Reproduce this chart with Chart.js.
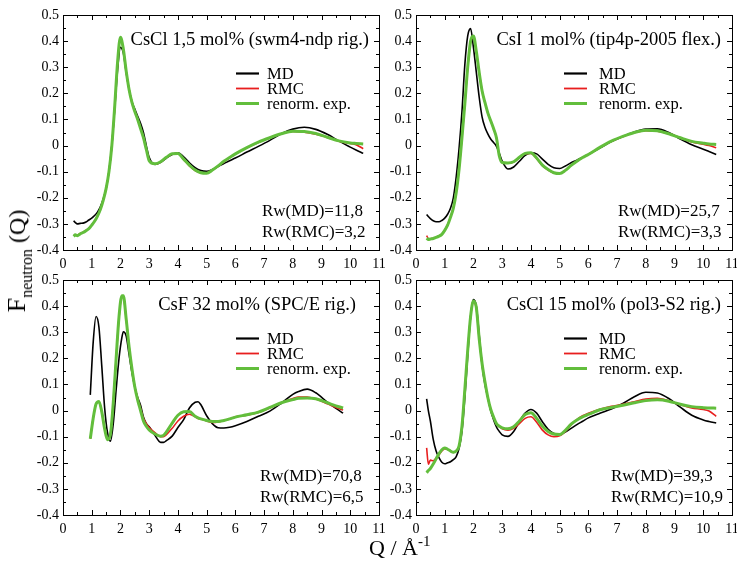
<!DOCTYPE html>
<html>
<head>
<meta charset="utf-8">
<script src="https://cdn.jsdelivr.net/npm/chart.js@4.4.1/dist/chart.umd.min.js"></script>
<style>
  html, body { margin: 0; padding: 0; background: #fff; overflow: hidden; }
  body { width: 737px; height: 564px; position: relative; font-family: 'Liberation Serif', 'Times New Roman', serif; }
  canvas { position: absolute; }
  #ytitle { position: absolute; left: 22px; top: 261px; transform: translate(-50%, -50%) rotate(-90deg);
            white-space: nowrap; font-size: 24px; line-height: 30px; color: #000; }
  #ytitle .big { font-size: 26px; }
  #ytitle .sub { font-size: 16px; vertical-align: -7px; }
  #xtitle { position: absolute; left: 369px; top: 535px; white-space: nowrap; font-size: 22px; line-height: 26px; color: #000; }
  #xtitle sup { font-size: 15px; vertical-align: 9px; line-height: 0; }
</style>
</head>
<body>
<canvas id="p0" width="394" height="275"></canvas>
<canvas id="p1" width="394" height="275"></canvas>
<canvas id="p2" width="394" height="275"></canvas>
<canvas id="p3" width="394" height="275"></canvas>
<div id="ytitle"><span class="big">F</span><span class="sub">neutron</span> (Q)</div>
<div id="xtitle">Q / Å<sup>-1</sup></div>
<script>
// axis ticks
const xTicks = [0, 1, 2, 3, 4, 5, 6, 7, 8, 9, 10, 11];
const xTickLabels = ['0', '1', '2', '3', '4', '5', '6', '7', '8', '9', '10', '11'];
const yTicks = [-0.4, -0.3, -0.2, -0.1, 0, 0.1, 0.2, 0.3, 0.4, 0.5];
const yTickLabels = ['-0.4', '-0.3', '-0.2', '-0.1', '0', '0.1', '0.2', '0.3', '0.4', '0.5'];

const seriesNames = ['MD', 'RMC', 'renorm. exp.'];
const panelTitles = ['CsCl 1,5 mol% (swm4-ndp rig.)', 'CsI 1 mol% (tip4p-2005 flex.)',
                     'CsF 32 mol% (SPC/E rig.)', 'CsCl 15 mol% (pol3-S2 rig.)'];
const rwLabels = [['Rw(MD)=11,8', 'Rw(RMC)=3,2'], ['Rw(MD)=25,7', 'Rw(RMC)=3,3'],
                  ['Rw(MD)=70,8', 'Rw(RMC)=6,5'], ['Rw(MD)=39,3', 'Rw(RMC)=10,9']];

// Q grids
const qA = [0.37, 0.43, 0.5, 0.6, 0.7, 0.8, 0.9, 1.0, 1.1, 1.2, 1.3, 1.4,
  1.5, 1.6, 1.7, 1.8, 1.9, 2.0, 2.1, 2.2, 2.3, 2.4, 2.5, 2.6, 2.7, 2.8, 2.9, 3.0,
  3.2, 3.4, 3.6, 3.8, 4.0, 4.2, 4.4, 4.6, 4.8, 5.0, 5.2, 5.4, 5.6, 5.8, 6.0,
  6.4, 6.8, 7.2, 7.6, 8.0, 8.4, 8.8, 9.2, 9.6, 10.0, 10.2, 10.45];
const qB = [0.95, 1.05, 1.15, 1.25, 1.35, 1.45, 1.55, 1.65, 1.75, 1.85, 1.95, 2.05,
  2.1, 2.2, 2.3, 2.4, 2.5, 2.6, 2.7, 2.8, 2.9, 3.0,
  3.2, 3.4, 3.5, 3.6, 3.8, 4.0, 4.2, 4.4, 4.6, 4.7, 4.8,
  5.0, 5.2, 5.4, 5.6, 5.8, 6.0, 6.4, 6.8, 7.2, 7.6, 8.0,
  8.2, 8.5, 8.8, 9.2, 9.5, 9.75];

// CsCl 1,5 mol%
const md1 = [-0.288, -0.295, -0.300, -0.298, -0.297, -0.293, -0.285, -0.278, -0.268, -0.255, -0.235, -0.205,
  -0.165, -0.10, 0.0, 0.14, 0.29, 0.376, 0.355, 0.28, 0.215, 0.168, 0.14, 0.112, 0.085, 0.05, 0.0, -0.045,
  -0.072, -0.064, -0.048, -0.034, -0.028, -0.043, -0.066, -0.085, -0.096, -0.099, -0.092, -0.08, -0.069, -0.058, -0.048,
  -0.025, -0.003, 0.02, 0.045, 0.063, 0.07, 0.062, 0.043, 0.018, -0.006, -0.017, -0.03];
const rmc1 = [-0.345, -0.342, -0.343, -0.337, -0.332, -0.325, -0.317, -0.304, -0.289, -0.27, -0.245, -0.21,
  -0.166, -0.10, 0.0, 0.148, 0.315, 0.41, 0.368, 0.284, 0.215, 0.165, 0.13, 0.1, 0.066, 0.03, -0.014, -0.056,
  -0.071, -0.063, -0.046, -0.032, -0.031, -0.054, -0.078, -0.096, -0.105, -0.104, -0.094, -0.079, -0.062, -0.047, -0.033,
  -0.009, 0.012, 0.03, 0.045, 0.054, 0.051, 0.043, 0.031, 0.017, 0.008, 0.003, -0.012];
const exp1 = [-0.348, -0.342, -0.345, -0.338, -0.333, -0.326, -0.318, -0.305, -0.29, -0.27, -0.245, -0.21,
  -0.165, -0.10, 0.0, 0.15, 0.32, 0.415, 0.37, 0.285, 0.215, 0.165, 0.13, 0.10, 0.065, 0.03, -0.015, -0.058,
  -0.07, -0.062, -0.045, -0.031, -0.03, -0.052, -0.075, -0.094, -0.104, -0.106, -0.094, -0.078, -0.06, -0.046, -0.032,
  -0.008, 0.013, 0.03, 0.045, 0.055, 0.054, 0.046, 0.032, 0.018, 0.01, 0.008, 0.006];

// CsI 1 mol%
const md2 = [-0.264, -0.272, -0.28, -0.288, -0.292, -0.292, -0.287, -0.278, -0.263, -0.24, -0.2, -0.12,
  -0.01, 0.13, 0.31, 0.42, 0.448, 0.375, 0.28, 0.185, 0.11, 0.07, 0.045, 0.025, 0.012, -0.003, -0.03, -0.06,
  -0.09, -0.082, -0.06, -0.038, -0.028, -0.032, -0.052, -0.072, -0.085, -0.088, -0.078, -0.066, -0.056, -0.045, -0.034,
  -0.01, 0.015, 0.035, 0.052, 0.063, 0.064, 0.05, 0.025, 0.003, -0.014, -0.023, -0.034];
const rmc2 = [-0.345, -0.356, -0.357, -0.355, -0.351, -0.346, -0.339, -0.324, -0.304, -0.274, -0.238, -0.178,
  -0.088, 0.03, 0.16, 0.298, 0.395, 0.415, 0.358, 0.28, 0.21, 0.165, 0.125, 0.095, 0.064, 0.03, -0.038, -0.064,
  -0.068, -0.063, -0.046, -0.031, -0.03, -0.05, -0.077, -0.094, -0.105, -0.106, -0.094, -0.076, -0.06, -0.046, -0.034,
  -0.008, 0.016, 0.034, 0.049, 0.057, 0.055, 0.046, 0.03, 0.014, 0.005, 0.0, -0.008];
const exp2 = [-0.355, -0.36, -0.358, -0.356, -0.352, -0.347, -0.34, -0.325, -0.305, -0.275, -0.24, -0.18,
  -0.09, 0.03, 0.16, 0.30, 0.40, 0.42, 0.36, 0.28, 0.21, 0.165, 0.125, 0.095, 0.065, 0.03, -0.04, -0.065,
  -0.067, -0.062, -0.045, -0.03, -0.028, -0.048, -0.075, -0.092, -0.104, -0.107, -0.095, -0.076, -0.06, -0.046, -0.034,
  -0.007, 0.017, 0.035, 0.05, 0.059, 0.057, 0.045, 0.03, 0.016, 0.009, 0.006, 0.004];

// CsF 32 mol%
const md3 = [0.06, 0.26, 0.36, 0.32, 0.17, 0.01, -0.085, -0.117, -0.05, 0.08, 0.20, 0.28,
  0.302, 0.285, 0.215, 0.145, 0.09, 0.05, 0.02, -0.025, -0.05, -0.062,
  -0.095, -0.122, -0.122, -0.115, -0.098, -0.065, -0.035, 0.01, 0.032, 0.034, 0.022,
  -0.02, -0.05, -0.066, -0.067, -0.064, -0.058, -0.042, -0.022, -0.002, 0.028, 0.062,
  0.073, 0.082, 0.068, 0.032, 0.008, -0.01];
const rmc3 = [-0.108, -0.03, 0.025, 0.034, -0.006, -0.07, -0.11, -0.09, 0.03, 0.2, 0.355, 0.435,
  0.435, 0.35, 0.245, 0.16, 0.092, 0.045, 0.008, -0.03, -0.05, -0.065,
  -0.085, -0.1, -0.1, -0.092, -0.068, -0.04, -0.022, -0.014, -0.024, -0.03, -0.032,
  -0.04, -0.046, -0.044, -0.038, -0.032, -0.024, -0.018, -0.007, 0.01, 0.03, 0.046,
  0.052, 0.052, 0.044, 0.026, 0.012, 0.002];
const exp3 = [-0.108, -0.03, 0.025, 0.035, -0.005, -0.07, -0.112, -0.092, 0.03, 0.2, 0.36, 0.44,
  0.44, 0.35, 0.245, 0.16, 0.09, 0.04, 0.0, -0.04, -0.06, -0.074,
  -0.09, -0.098, -0.095, -0.082, -0.048, -0.018, -0.005, -0.004, -0.022, -0.028, -0.032,
  -0.038, -0.042, -0.042, -0.038, -0.032, -0.025, -0.016, -0.006, 0.012, 0.03, 0.042,
  0.047, 0.048, 0.045, 0.03, 0.018, 0.01];

// CsCl 15 mol%
const md4 = [0.045, 0.0, -0.04, -0.11, -0.155, -0.18, -0.198, -0.204, -0.2, -0.196, -0.188, -0.176,
  -0.145, -0.08, 0.05, 0.21, 0.36, 0.425, 0.4, 0.29, 0.175, 0.1, 0.05, 0.0, -0.035, -0.063, -0.08, -0.093,
  -0.099, -0.08, -0.042, -0.01, 0.004, -0.01, -0.043, -0.072, -0.088, -0.091, -0.082, -0.068, -0.054, -0.041, -0.028,
  -0.01, 0.006, 0.027, 0.053, 0.07, 0.067, 0.046, 0.013, -0.018, -0.036, -0.042, -0.048];
const rmc4 = [-0.143, -0.205, -0.19, -0.192, -0.182, -0.17, -0.155, -0.146, -0.149, -0.155, -0.16, -0.155,
  -0.135, -0.06, 0.08, 0.23, 0.36, 0.415, 0.39, 0.275, 0.18, 0.11, 0.05, 0.005, -0.025, -0.05, -0.062, -0.07,
  -0.075, -0.068, -0.05, -0.03, -0.024, -0.045, -0.075, -0.093, -0.1, -0.097, -0.08, -0.055, -0.035, -0.02, -0.01,
  0.005, 0.016, 0.024, 0.034, 0.044, 0.047, 0.037, 0.022, 0.01, 0.004, -0.002, -0.022];
const exp4 = [-0.238, -0.23, -0.222, -0.205, -0.185, -0.165, -0.15, -0.143, -0.148, -0.155, -0.16, -0.155,
  -0.135, -0.06, 0.08, 0.23, 0.36, 0.42, 0.395, 0.275, 0.18, 0.11, 0.05, 0.005, -0.025, -0.05, -0.06, -0.066,
  -0.07, -0.062, -0.04, -0.015, -0.008, -0.03, -0.06, -0.08, -0.09, -0.092, -0.076, -0.052, -0.036, -0.024, -0.015,
  0.003, 0.012, 0.02, 0.03, 0.038, 0.041, 0.036, 0.024, 0.015, 0.011, 0.01, 0.009];

const panelData = [
  { q: qA, series: [md1, rmc1, exp1] },
  { q: qA, series: [md2, rmc2, exp2] },
  { q: qB, series: [md3, rmc3, exp3] },
  { q: qA, series: [md4, rmc4, exp4] },
];

// placement and style
const boxes = [
  { left: 0,   top: 0,   legX: 173, legTextX: 204, titleR: 306, rwX: 199 },
  { left: 353, top: 0,   legX: 148, legTextX: 183, titleR: 305, rwX: 202 },
  { left: 0,   top: 265, legX: 173, legTextX: 204, titleR: 293, rwX: 197 },
  { left: 353, top: 265, legX: 148, legTextX: 183, titleR: 305, rwX: 195 },
];
const colors = ['#000000', '#e81e1e', '#62be3c'];
const widths = [1.6, 1.6, 3];
const legWidths = [2.2, 1.8, 3];
const FONT = "'Liberation Serif', 'Times New Roman', serif";

const frameTicks = {
  id: 'frameTicks',
  afterDraw(chart) {
    const { ctx, chartArea: a, scales: { x, y } } = chart;
    ctx.save();
    ctx.strokeStyle = '#000';
    ctx.lineWidth = 1;
    ctx.strokeRect(a.left + 0.5, a.top + 0.5, a.right - a.left, a.bottom - a.top);
    ctx.beginPath();
    for (let k = 1; k < 22; k++) {
      const px = Math.round(x.getPixelForValue(k / 2)) + 0.5;
      const len = k % 2 === 0 ? 5 : 3;
      ctx.moveTo(px, a.bottom); ctx.lineTo(px, a.bottom - len);
      ctx.moveTo(px, a.top); ctx.lineTo(px, a.top + len);
    }
    for (let k = 1; k < 18; k++) {
      const py = Math.round(y.getPixelForValue(-0.4 + k * 0.05)) + 0.5;
      const len = k % 2 === 0 ? 5 : 3;
      ctx.moveTo(a.left, py); ctx.lineTo(a.left + len, py);
      ctx.moveTo(a.right, py); ctx.lineTo(a.right - len, py);
    }
    ctx.stroke();
    ctx.restore();
  }
};

const annotations = {
  id: 'annotations',
  afterDraw(chart, args, opts) {
    const { ctx, chartArea: a } = chart;
    const b = opts.box;
    ctx.save();
    ctx.fillStyle = '#000';
    ctx.font = '18.5px ' + FONT;
    ctx.textAlign = 'right';
    ctx.textBaseline = 'alphabetic';
    ctx.fillText(opts.title, a.left + b.titleR, a.top + 30);

    ctx.font = '16.5px ' + FONT;
    ctx.textAlign = 'left';
    ctx.textBaseline = 'middle';
    seriesNames.forEach((name, i) => {
      const ly = a.top + 58.5 + i * 15;
      ctx.strokeStyle = colors[i];
      ctx.lineWidth = legWidths[i];
      ctx.beginPath();
      ctx.moveTo(a.left + b.legX, ly);
      ctx.lineTo(a.left + b.legX + 23, ly);
      ctx.stroke();
      ctx.fillText(name, a.left + b.legTextX, ly + 1);
    });

    ctx.font = '17px ' + FONT;
    ctx.textBaseline = 'alphabetic';
    ctx.fillText(opts.rw[0], a.left + b.rwX, a.top + 201);
    ctx.fillText(opts.rw[1], a.left + b.rwX, a.top + 222);
    ctx.restore();
  }
};

panelData.forEach((p, idx) => {
  const b = boxes[idx];
  const canvas = document.getElementById('p' + idx);
  canvas.style.left = b.left + 'px';
  canvas.style.top = b.top + 'px';

  const datasets = p.series.map((vals, i) => ({
    label: seriesNames[i],
    data: p.q.map((q, j) => ({ x: q, y: vals[j] })),
    borderColor: colors[i],
    borderWidth: widths[i],
    pointRadius: 0,
    fill: false,
    cubicInterpolationMode: 'monotone',
    order: 3 - i,
  }));

  new Chart(canvas.getContext('2d'), {
    type: 'line',
    data: { datasets },
    options: {
      responsive: false,
      animation: false,
      layout: { padding: { left: 0, top: 15, right: 15, bottom: 0 } },
      plugins: {
        legend: { display: false },
        tooltip: { enabled: false },
        annotations: { box: b, title: panelTitles[idx], rw: rwLabels[idx] },
      },
      scales: {
        x: {
          type: 'linear',
          min: 0, max: 11,
          afterBuildTicks: s => { s.ticks = xTicks.map(v => ({ value: v })); },
          afterFit: s => { s.height = 25; },
          grid: { display: false, drawTicks: false },
          border: { display: false },
          ticks: {
            color: '#000', padding: 6, maxRotation: 0, autoSkip: false,
            font: { family: FONT, size: 14 },
            callback: (v, i) => xTickLabels[i],
          },
        },
        y: {
          type: 'linear',
          min: -0.4, max: 0.5,
          afterBuildTicks: s => { s.ticks = yTicks.map(v => ({ value: v })); },
          afterFit: s => { s.width = 63; },
          grid: { display: false, drawTicks: false },
          border: { display: false },
          ticks: {
            color: '#000', padding: 4, autoSkip: false,
            font: { family: FONT, size: 14 },
            callback: (v, i) => yTickLabels[i],
          },
        },
      },
    },
    plugins: [frameTicks, annotations],
  });
});
</script>
</body>
</html>
